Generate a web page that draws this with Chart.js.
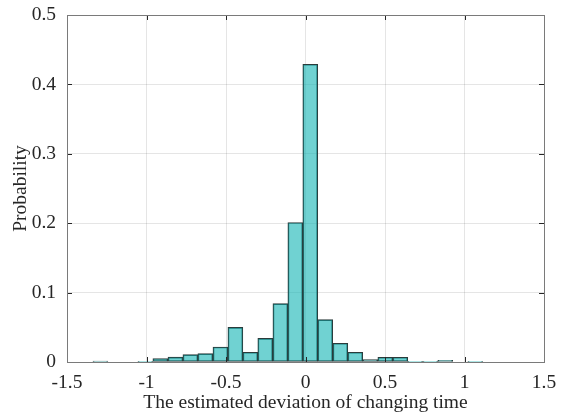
<!DOCTYPE html>
<html>
<head>
<meta charset="utf-8">
<script src="https://cdn.jsdelivr.net/npm/chart.js@4"></script>
<style>
  html, body { margin: 0; padding: 0; background: #fff; }
  #wrap { width: 565px; height: 415px; }
</style>
</head>
<body>
<div id="wrap"><canvas id="hist"></canvas></div>
<script>
// histogram bin centres (bin width ~0.094)
const binCenters = [-1.290, -1.196, -1.102, -1.007, -0.913, -0.818, -0.724, -0.630, -0.535,
  -0.441, -0.347, -0.253, -0.158, -0.064, 0.030, 0.124, 0.219, 0.313, 0.407, 0.502,
  0.596, 0.690, 0.785, 0.879, 0.973, 1.068];
const probability = [0.0015, 0, 0, 0.001, 0.005, 0.007, 0.0106, 0.012, 0.0216,
  0.050, 0.014, 0.034, 0.084, 0.201, 0.429, 0.061, 0.027, 0.014, 0.0035, 0.0068,
  0.0068, 0.0005, 0.001, 0.0025, 0, 0.001];
const xTicks = [-1.5, -1, -0.5, 0, 0.5, 1, 1.5];
const yTicks = [0, 0.1, 0.2, 0.3, 0.4, 0.5];

const serif = '"Liberation Serif", "Times New Roman", serif';

// box around the axes plus inward tick marks
const axesBox = {
  id: 'axesBox',
  afterDatasetsDraw(chart) {
    const { ctx, chartArea: a, scales } = chart;
    ctx.save();
    ctx.strokeStyle = '#262626';
    ctx.lineWidth = 1;
    ctx.beginPath();
    xTicks.forEach(v => {
      const px = Math.round(scales.x.getPixelForValue(v)) + 0.5;
      ctx.moveTo(px, a.bottom); ctx.lineTo(px, a.bottom - 5);
      ctx.moveTo(px, a.top); ctx.lineTo(px, a.top + 5);
    });
    yTicks.forEach(v => {
      const py = Math.round(scales.y.getPixelForValue(v)) + 0.5;
      ctx.moveTo(a.left, py); ctx.lineTo(a.left + 5, py);
      ctx.moveTo(a.right, py); ctx.lineTo(a.right - 5, py);
    });
    ctx.stroke();
    ctx.strokeStyle = '#7a7a7a';
    ctx.strokeRect(Math.round(a.left) + 0.5, Math.round(a.top) + 0.5,
      Math.round(a.right - a.left), Math.round(a.bottom - a.top));
    ctx.restore();
  }
};

new Chart(document.getElementById('hist'), {
  type: 'bar',
  data: {
    datasets: [{
      data: binCenters.map((c, i) => ({ x: c, y: probability[i] })),
      backgroundColor: 'rgba(16, 180, 180, 0.6)',
      borderColor: '#2b3b3b',
      borderWidth: 1,
      borderSkipped: false,
      barPercentage: 1,
      categoryPercentage: 1
    }]
  },
  options: {
    responsive: true,
    maintainAspectRatio: false,
    animation: false,
    layout: { padding: { top: 15, right: 21, left: 0, bottom: 0 } },
    plugins: { legend: { display: false }, tooltip: { enabled: false } },
    scales: {
      x: {
        type: 'linear',
        offset: false,
        min: -1.5,
        max: 1.5,
        afterBuildTicks: s => { s.ticks = xTicks.map(v => ({ value: v })); },
        afterFit: s => { s.height = 53; s.paddingLeft = 0; s.paddingRight = 0; },
        grid: { color: 'rgba(0,0,0,0.1)', drawTicks: false, offset: false },
        border: { display: false },
        ticks: {
          padding: 9,
          color: '#262626',
          font: { family: serif, size: 19.5 },
          maxRotation: 0,
          callback: v => String(Math.round(v * 10) / 10)
        },
        title: {
          display: true,
          text: 'The estimated deviation of changing time',
          color: '#262626',
          font: { family: serif, size: 19.5 },
          padding: { top: 0, bottom: 0 }
        }
      },
      y: {
        min: 0,
        max: 0.5,
        afterBuildTicks: s => { s.ticks = yTicks.map(v => ({ value: v })); },
        afterFit: s => { s.width = 67; s.paddingTop = 0; s.paddingBottom = 0; },
        grid: { color: 'rgba(0,0,0,0.1)', drawTicks: false },
        border: { display: false },
        ticks: {
          padding: 11,
          color: '#262626',
          font: { family: serif, size: 19.5 },
          callback: v => String(Math.round(v * 10) / 10)
        },
        title: {
          display: true,
          text: 'Probability',
          color: '#262626',
          font: { family: serif, size: 19.5 },
          padding: { top: 9, bottom: 0 }
        }
      }
    }
  },
  plugins: [axesBox]
});
</script>
</body>
</html>
